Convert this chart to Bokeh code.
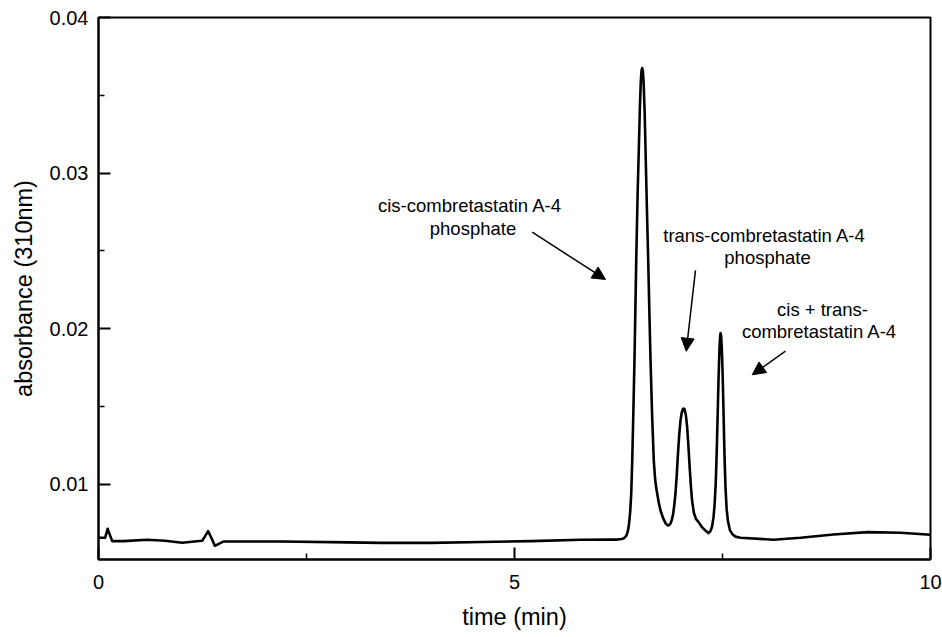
from bokeh.plotting import figure
from bokeh.models import FixedTicker, Label, Arrow, NormalHead, Range1d
from bokeh.embed import file_html
from bokeh.resources import INLINE

# Chromatogram trace (time in min, absorbance at 310 nm)
time_min = [0.00, 0.08, 0.11, 0.165, 0.30, 0.585, 0.80, 1.006, 1.15, 1.246,
            1.318, 1.36, 1.398, 1.506, 2.2, 3.0, 3.4, 4.0, 4.6, 5.2,
            5.8, 6.15,
            6.234, 6.290, 6.320, 6.345, 6.362, 6.376, 6.390, 6.403, 6.415, 6.428,
            6.442, 6.463, 6.480, 6.494, 6.507, 6.518, 6.527, 6.535, 6.543, 6.553,
            6.565, 6.578, 6.592, 6.607, 6.621, 6.635, 6.655, 6.674, 6.690, 6.703,
            6.715, 6.735, 6.755, 6.785, 6.815, 6.835, 6.851, 6.870, 6.887, 6.905,
            6.920, 6.935, 6.950, 6.965, 6.980, 6.995, 7.010, 7.025, 7.035, 7.045,
            7.060, 7.075, 7.090, 7.105, 7.120, 7.135, 7.155, 7.180, 7.212, 7.250,
            7.296, 7.332, 7.355, 7.375, 7.392, 7.405, 7.418, 7.430, 7.442, 7.453,
            7.463, 7.470, 7.477, 7.484, 7.492, 7.502, 7.513, 7.524, 7.536, 7.550,
            7.567, 7.590, 7.620, 7.656, 7.716, 8.113, 8.438, 8.834, 9.243, 9.639,
            10.0]
absorbance = [0.00658, 0.00658, 0.00715, 0.00636, 0.00636, 0.00645, 0.00638, 0.00626, 0.00634, 0.00638,
              0.00700, 0.00653, 0.00606, 0.00634, 0.00634, 0.00628, 0.00625, 0.00625, 0.00630, 0.00636,
              0.00645, 0.00646,
              0.00646, 0.00650, 0.00656, 0.00672, 0.00700, 0.00745, 0.00820, 0.00940, 0.01154, 0.01450,
              0.01797, 0.02439, 0.02870, 0.03150, 0.03420, 0.03590, 0.03660, 0.03675, 0.03655, 0.03570,
              0.03380, 0.03080, 0.02760, 0.02439, 0.02110, 0.01797, 0.01430, 0.01154, 0.01035, 0.00980,
              0.00942, 0.00880, 0.00833, 0.00785, 0.00752, 0.00740, 0.00737, 0.00745, 0.00765, 0.00805,
              0.00865, 0.00942, 0.01060, 0.01200, 0.01320, 0.01410, 0.01462, 0.01485, 0.01488, 0.01482,
              0.01445, 0.01370, 0.01250, 0.01115, 0.00990, 0.00895, 0.00820, 0.00780, 0.00758, 0.00728,
              0.00703, 0.00688, 0.00700, 0.00730, 0.00790, 0.00870, 0.01000, 0.01200, 0.01450, 0.01690,
              0.01860, 0.01940, 0.01972, 0.01950, 0.01870, 0.01700, 0.01450, 0.01190, 0.00980, 0.00840,
              0.00760, 0.00705, 0.00680, 0.00665, 0.00658, 0.00645, 0.00658, 0.00679, 0.00694, 0.00690,
              0.00677]

x_major_ticks = [0, 5, 10]
x_minor_ticks = [2.5, 7.5]
x_tick_labels = ["0", "5", "10"]
y_major_ticks = [0.01, 0.02, 0.03, 0.04]
y_minor_ticks = [0.015, 0.025, 0.035]
y_tick_labels = ["0.01", "0.02", "0.03", "0.04"]

# Annotations: text lines and their centres (data units)
annot_lines = ["cis-combretastatin A-4", "phosphate",
               "trans-combretastatin A-4", "phosphate",
               "cis + trans-", "combretastatin A-4"]
annot_x = [4.465, 4.501, 8.005, 8.041, 8.702, 8.666]
annot_y = [0.02792, 0.02645, 0.02600, 0.02456, 0.02124, 0.01983]

arrow_x_start = [5.213, 7.175, 8.257]
arrow_y_start = [0.02621, 0.02375, 0.01856]
arrow_x_end = [6.094, 7.064, 7.857]
arrow_y_end = [0.02317, 0.01856, 0.01705]

FONT = "Liberation Sans"

p = figure(width=942, height=637, output_backend="svg", toolbar_location=None,
           x_range=Range1d(0, 10), y_range=Range1d(0.00518, 0.04),
           min_border_left=98, min_border_right=12, min_border_top=17, min_border_bottom=78)

p.line(time_min, absorbance, line_color="black", line_width=2.6, line_join="round")

p.xgrid.visible = False
p.ygrid.visible = False
p.outline_line_color = "black"
p.outline_line_width = 2
p.outline_line_alpha = 1.0
p.background_fill_color = "white"
p.border_fill_color = "white"

p.xaxis.ticker = FixedTicker(ticks=x_major_ticks, minor_ticks=x_minor_ticks)
p.yaxis.ticker = FixedTicker(ticks=y_major_ticks, minor_ticks=y_minor_ticks)
p.xaxis.major_label_overrides = {t: l for t, l in zip(x_major_ticks, x_tick_labels)}
p.yaxis.major_label_overrides = {t: l for t, l in zip(y_major_ticks, y_tick_labels)}

for ax in (p.xaxis, p.yaxis):
    ax.axis_line_color = "black"
    ax.axis_line_width = 2
    ax.major_tick_line_color = "black"
    ax.minor_tick_line_color = "black"
    ax.major_tick_line_width = 2
    ax.minor_tick_line_width = 1.5
    ax.major_tick_in = 12
    ax.major_tick_out = 0
    ax.minor_tick_in = 6
    ax.minor_tick_out = 0
    ax.major_label_text_font = FONT
    ax.major_label_text_color = "black"
    ax.axis_label_text_font = FONT
    ax.axis_label_text_font_style = "normal"
    ax.axis_label_text_color = "black"
    ax.axis_label_text_font_size = "23.5px"

p.xaxis.major_label_text_font_size = "20px"
p.yaxis.major_label_text_font_size = "20px"
p.xaxis.major_label_standoff = 15
p.yaxis.major_label_standoff = 10
p.xaxis.axis_label = "time (min)"
p.yaxis.axis_label = "absorbance (310nm)"
p.xaxis.axis_label_standoff = 12
p.yaxis.axis_label_standoff = 10

for txt, x, y in zip(annot_lines, annot_x, annot_y):
    p.add_layout(Label(x=x, y=y, text=txt, text_align="center", text_baseline="middle",
                       text_font=FONT, text_font_size="18.5px", text_color="black"))

for xs, ys, xe, ye in zip(arrow_x_start, arrow_y_start, arrow_x_end, arrow_y_end):
    p.add_layout(Arrow(x_start=xs, y_start=ys, x_end=xe, y_end=ye,
                       line_color="black", line_width=1.5,
                       end=NormalHead(size=13, fill_color="black", line_color="black", line_width=1)))

open("out.html", "w").write(file_html(p, INLINE))
